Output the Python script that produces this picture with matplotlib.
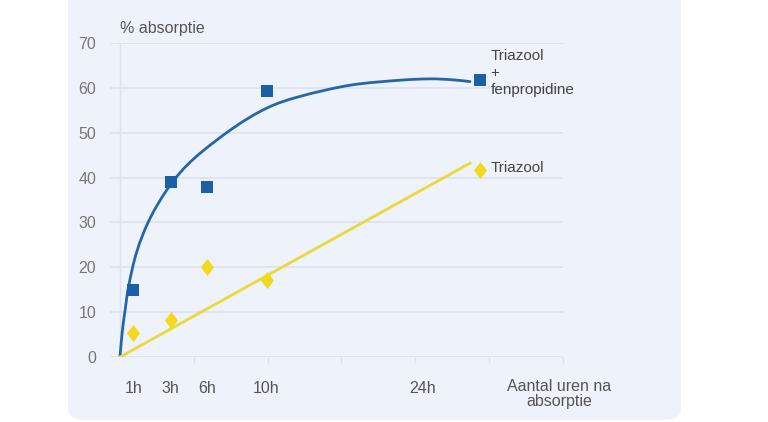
import matplotlib
matplotlib.use("Agg")
from matplotlib import pyplot as plt
from matplotlib.patches import FancyBboxPatch, PathPatch
from matplotlib.path import Path

# x positions are in axis units (1 unit = one tick step)
hour_labels = ["1h", "3h", "6h", "10h", "24h"]
label_pos = [0.18, 0.68, 1.18, 1.98, 4.1]

point_x = [0.18, 0.69, 1.18, 1.99, 4.88]
combi_y = [15.0, 39.0, 37.8, 59.3, 61.8]
triazool_y = [5.4, 8.3, 20.0, 17.2, 41.6]

# trend curve for triazool + fenpropidine
curve_x = [0.0, 0.03, 0.07, 0.12, 0.23, 0.41, 0.68, 1.0, 1.53, 1.99, 2.44,
           3.12, 3.79, 4.2, 4.5, 4.74]
curve_y = [0.0, 5.5, 10.5, 16.0, 23.6, 31.0, 38.3, 44.2, 51.0, 55.5, 58.1,
           60.6, 61.7, 62.0, 61.8, 61.4]

# straight trend line for triazool
line_x = [0.0, 4.74]
line_y = [0.0, 43.2]

blue = "#1b5fa6"
yellow = "#f2d91c"
text_col = "#555555"


def smooth_path(xs, ys, ax):
    # Catmull-Rom through the read points, drawn as cubic Bezier in pixel space
    pts = [ax.transData.transform((x, y)) for x, y in zip(xs, ys)]
    verts = [pts[0]]
    codes = [Path.MOVETO]
    n = len(pts)
    for i in range(n - 1):
        p0 = pts[i - 1] if i > 0 else pts[i]
        p1 = pts[i]
        p2 = pts[i + 1]
        p3 = pts[i + 2] if i + 2 < n else pts[i + 1]
        c1 = p1 + (p2 - p0) / 6.0
        c2 = p2 - (p3 - p1) / 6.0
        verts += [c1, c2, p2]
        codes += [Path.CURVE4] * 3
    inv = ax.transData.inverted()
    return Path(inv.transform(verts), codes)


plt.rcParams['font.family'] = ['Liberation Sans', 'DejaVu Sans']

fig = plt.figure(figsize=(7.68, 4.22), dpi=100)
fig.patch.set_facecolor("white")

panel = FancyBboxPatch((68 / 768, 2 / 422), (681 - 68) / 768, (430 - 2) / 422,
                       boxstyle="round,pad=0,rounding_size=0.025",
                       transform=fig.transFigure, facecolor="#eef2fb",
                       edgecolor="none", zorder=-10)
fig.add_artist(panel)

ax = fig.add_axes([110 / 768, (422 - 357) / 422, (563 - 110) / 768, (357 - 43) / 422])
ax.set_zorder(5)
ax.set_facecolor("none")
ax.set_xlim(-0.135, 6.0)
ax.set_ylim(0, 70)

for s in ax.spines.values():
    s.set_visible(False)

ax.set_yticks(range(0, 71, 10))
ax.yaxis.grid(True, color="#dde2ec", linewidth=1.2)
ax.axvline(0, color="#dde2ec", linewidth=1.0, zorder=0)
ax.tick_params(axis="y", length=0, pad=10, labelsize=11.5, labelcolor="#777777")

ax.set_xticks(label_pos)
ax.set_xticklabels(hour_labels)
ax.set_xticks(range(1, 7), minor=True)
ax.tick_params(axis="x", which="major", length=0, pad=17, labelsize=11.5,
               labelcolor=text_col)
ax.tick_params(axis="x", which="minor", length=4, color="#dde2ec", width=1)
ax.set_axisbelow(True)

curve = PathPatch(smooth_path(curve_x, curve_y, ax), facecolor="none",
                  edgecolor="#2766a6", linewidth=2.0, zorder=2,
                  capstyle="round")
ax.add_patch(curve)
ax.plot(line_x, line_y, color="#ead938", linewidth=2.0, zorder=2)

diamond = [(0, 1.3), (1, 0), (0, -1.3), (-1, 0), (0, 1.3)]
ax.scatter(point_x, combi_y, marker="s", s=85, color=blue, zorder=3, linewidths=0)
ax.scatter(point_x, triazool_y, marker=diamond, s=150, color=yellow, zorder=3,
           linewidths=0)

ax.text(0.0, 71.5, "% absorptie", ha="left", va="bottom", fontsize=11.5,
        color=text_col, clip_on=False)
ax.text(5.02, combi_y[-1] + 6.8, "Triazool\n+\nfenpropidine", ha="left", va="top",
        fontsize=11, color="#444444", linespacing=1.25, clip_on=False)
ax.text(5.02, triazool_y[-1] + 0.6, "Triazool", ha="left", va="center",
        fontsize=11, color="#444444", clip_on=False)
ax.text(5.95, -5.0, "Aantal uren na\nabsorptie", ha="center", va="top",
        fontsize=11.5, color=text_col, linespacing=1.0, clip_on=False)

fig.savefig("out.png", dpi=100)
